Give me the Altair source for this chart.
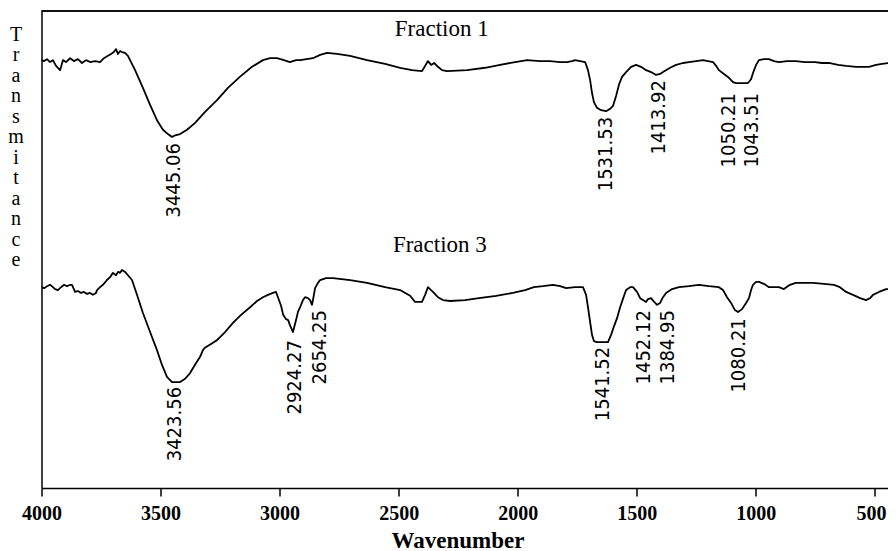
import altair as alt
import pandas as pd

# Fraction 1 spectrum: wavenumber (cm-1) and transmittance (arbitrary %)
f1_wn = [4000, 3989, 3977, 3964, 3952, 3939, 3922, 3910, 3897, 3880, 3864, 3847, 3830, 3813, 3796,
         3775, 3754, 3738, 3721, 3708, 3696, 3687, 3679, 3670, 3662, 3649, 3637, 3607, 3574, 3544,
         3515, 3490, 3469, 3452, 3435, 3418, 3389, 3356, 3314, 3263, 3217, 3167, 3116, 3070, 3040,
         3011, 2982, 2957, 2931, 2914, 2860, 2830, 2801, 2759, 2704, 2633, 2557, 2494, 2444, 2402,
         2389, 2377, 2364, 2351, 2335, 2318, 2297, 2213, 2137, 2074, 2011, 1961, 1906, 1864, 1822,
         1793, 1772, 1759, 1738, 1717, 1705, 1696, 1688, 1680, 1667, 1650, 1629, 1612, 1600, 1587,
         1574, 1562, 1545, 1524, 1503, 1482, 1461, 1440, 1419, 1402, 1390, 1360, 1335, 1306, 1281,
         1251, 1222, 1201, 1180, 1167, 1155, 1134, 1113, 1096, 1083, 1058, 1033, 1020, 1012, 999,
         987, 966, 945, 924, 903, 869, 832, 794, 752, 722, 693, 655, 621, 579, 554,
         525, 495, 470, 440, 411]
f1_t = [89.7, 89.5, 89.9, 89.3, 89.7, 88.5, 87.6, 89.7, 89.3, 90.1, 89.5, 89.9, 89.1, 89.7, 89.3,
        89.5, 89.3, 90.1, 90.6, 91.0, 91.4, 92.0, 91.0, 91.6, 91.4, 91.2, 90.6, 87.6, 83.9, 80.3,
        77.1, 75.1, 74.2, 73.6, 74.0, 74.2, 75.1, 76.5, 78.8, 81.3, 83.9, 86.2, 88.3, 89.7, 90.1,
        90.1, 89.7, 89.3, 89.7, 89.7, 90.1, 90.8, 91.2, 91.0, 90.6, 89.7, 88.9, 88.1, 87.6, 87.4,
        88.5, 89.5, 88.7, 89.1, 88.3, 87.6, 87.4, 87.6, 88.1, 88.7, 89.3, 89.7, 89.5, 89.5, 89.3,
        89.3, 89.5, 89.7, 89.5, 89.3, 87.6, 85.5, 82.8, 80.9, 79.7, 79.2, 79.0, 79.5, 80.1, 82.2,
        84.7, 86.2, 87.2, 88.3, 88.7, 88.3, 87.6, 87.2, 86.6, 86.8, 87.2, 88.1, 88.7, 89.1, 89.3,
        89.5, 89.7, 89.5, 89.3, 88.5, 87.6, 86.8, 86.0, 85.1, 84.9, 84.9, 84.9, 85.7, 87.0, 88.7,
        89.7, 89.9, 89.9, 89.5, 89.3, 89.5, 89.5, 89.3, 89.3, 89.1, 89.1, 88.7, 88.5, 88.3, 88.3,
        88.3, 88.7, 88.9, 89.1, 88.9]

# Fraction 3 spectrum
f3_wn = [4000, 3989, 3977, 3964, 3952, 3943, 3931, 3918, 3905, 3893, 3880, 3872, 3859, 3847, 3834,
         3822, 3809, 3796, 3784, 3771, 3767, 3754, 3742, 3725, 3712, 3700, 3687, 3679, 3670, 3662,
         3649, 3637, 3620, 3599, 3574, 3544, 3515, 3494, 3473, 3452, 3435, 3418, 3397, 3376, 3356,
         3334, 3322, 3314, 3288, 3263, 3229, 3196, 3162, 3124, 3095, 3070, 3049, 3028, 3015, 3007,
         2994, 2985, 2973, 2964, 2957, 2944, 2931, 2923, 2914, 2902, 2893, 2881, 2872, 2864, 2860,
         2851, 2839, 2830, 2805, 2776, 2704, 2633, 2557, 2494, 2452, 2431, 2402, 2389, 2377, 2364,
         2356, 2335, 2314, 2284, 2221, 2163, 2091, 2020, 1969, 1932, 1894, 1852, 1822, 1797, 1759,
         1726, 1713, 1705, 1696, 1688, 1680, 1667, 1642, 1621, 1608, 1595, 1583, 1570, 1557, 1545,
         1528, 1516, 1499, 1486, 1474, 1461, 1453, 1440, 1427, 1415, 1402, 1390, 1377, 1352, 1323,
         1281, 1239, 1197, 1155, 1138, 1121, 1104, 1088, 1075, 1058, 1041, 1029, 1020, 1012, 999,
         987, 966, 945, 924, 903, 882, 857, 832, 794, 760, 714, 672, 647, 621, 592,
         562, 537, 520, 508, 483, 453, 432, 411]
f3_t = [42.1, 41.9, 42.3, 42.6, 42.1, 41.7, 41.5, 42.1, 42.6, 42.3, 42.6, 42.6, 41.1, 41.3, 40.9,
        41.1, 40.7, 40.9, 40.5, 40.9, 41.5, 42.1, 42.6, 43.6, 44.2, 45.1, 44.6, 45.3, 45.1, 45.7,
        45.3, 44.6, 43.6, 40.5, 36.7, 32.7, 28.9, 25.8, 23.3, 22.2, 22.2, 22.2, 22.9, 24.1, 25.8,
        27.5, 28.9, 29.4, 30.2, 31.0, 32.7, 34.6, 36.3, 37.9, 39.2, 40.0, 40.5, 40.9, 41.1, 40.0,
        38.2, 36.3, 35.4, 35.2, 34.2, 32.7, 35.2, 36.9, 37.9, 39.4, 40.0, 39.8, 39.4, 38.4, 39.4,
        41.9, 43.0, 43.6, 44.0, 44.0, 43.6, 43.0, 42.1, 41.5, 40.3, 39.0, 39.0, 40.5, 42.1, 41.5,
        41.1, 40.0, 39.4, 39.2, 39.4, 39.8, 40.3, 40.9, 41.5, 42.1, 42.3, 42.6, 42.3, 41.9, 42.1,
        42.1, 40.5, 37.9, 34.8, 32.1, 30.8, 30.6, 30.6, 30.6, 32.1, 34.0, 35.6, 37.9, 39.8, 41.5,
        42.1, 42.1, 41.1, 39.8, 39.4, 39.0, 39.6, 39.8, 39.0, 38.4, 38.8, 40.0, 40.9, 41.7, 42.1,
        42.3, 42.6, 42.3, 42.1, 41.5, 40.0, 38.8, 37.3, 36.9, 37.5, 38.8, 39.8, 41.5, 42.6, 43.2,
        43.2, 42.8, 42.1, 42.1, 42.1, 41.7, 42.6, 43.0, 43.0, 43.0, 42.8, 42.6, 42.1, 41.1, 40.5,
        39.8, 39.4, 39.8, 40.5, 41.1, 41.7, 41.7, 41.7]

# Peak annotations: label text, wavenumber position, transmittance (top end of label)
peak_text = ["3445.06", "1531.53", "1413.92", "1050.21", "1043.51",
             "3423.56", "2924.27", "2654.25", "1541.52", "1452.12", "1384.95", "1080.21"]
peak_wn = [3444, 1629, 1406, 1113, 1016,
           3439, 2935, 2830, 1642, 1470, 1369, 1071]
peak_t = [72.3, 77.8, 85.5, 82.8, 82.8,
          21.2, 31.0, 37.3, 29.6, 37.3, 37.3, 35.6]

# Series titles
frac_text = ["Fraction 1", "Fraction 3"]
frac_wn = [2319, 2327]
frac_t = [96.2, 50.9]

tick_values = [4000, 3500, 3000, 2500, 2000, 1500, 1000, 500]

spec = pd.concat([
    pd.DataFrame({"wn": f1_wn, "t": f1_t, "series": "Fraction 1"}),
    pd.DataFrame({"wn": f3_wn, "t": f3_t, "series": "Fraction 3"}),
], ignore_index=True)
peaks = pd.DataFrame({"label": peak_text, "wn": peak_wn, "t": peak_t})
fracs = pd.DataFrame({"label": frac_text, "wn": frac_wn, "t": frac_t})

W, H = 846.5, 477
SERIF = "Liberation Serif, Times New Roman, serif"
NARROW = "Liberation Sans Narrow, Arial Narrow, DejaVu Sans Condensed, sans-serif"

xscale = alt.Scale(domain=[445, 4000], reverse=True, nice=False, zero=False)
yscale = alt.Scale(domain=[0, 100], nice=False, zero=False)

xaxis = alt.Axis(values=tick_values, format="d", title="Wavenumber", grid=False,
                 domainColor="black", domainWidth=1.5, tickColor="black", tickWidth=1.5,
                 tickSize=8, labelFont=SERIF, labelFontSize=20, labelFontWeight="bold",
                 labelColor="black", labelPadding=7, labelFlush=False,
                 labelOffset={"condition": {"test": "datum.value == 500", "value": -4}, "value": 0},
                 titleFont=SERIF, titleFontSize=23, titleFontWeight="bold", titleColor="black",
                 titleX=416, titleY=59, titleBaseline="alphabetic", titleAnchor="middle")
yaxis = alt.Axis(title=list("Transmitance"), grid=False, labels=False, ticks=False,
                 domainColor="black", domainWidth=1.5,
                 titleFont=SERIF, titleFontSize=20, titleFontWeight="normal", titleColor="black",
                 titleAngle=0, titleAlign="center", titleBaseline="alphabetic",
                 titleX=-26, titleY=29, titleLineHeight=20.5)

lines = alt.Chart(spec).mark_line(color="black", strokeWidth=1.8, strokeJoin="round",
                                  clip=True).encode(
    x=alt.X("wn:Q", scale=xscale, axis=xaxis),
    y=alt.Y("t:Q", scale=yscale, axis=yaxis),
    detail="series:N",
    order="wn:Q",
)

peak_labels = alt.Chart(peaks).mark_text(angle=270, align="right", baseline="middle",
                                          font=NARROW, fontSize=20, color="black").encode(
    x=alt.X("wn:Q", scale=xscale),
    y=alt.Y("t:Q", scale=yscale),
    text="label:N",
)

frac_labels = alt.Chart(fracs).mark_text(align="center", baseline="middle",
                                          font=SERIF, fontSize=23, color="black").encode(
    x=alt.X("wn:Q", scale=xscale),
    y=alt.Y("t:Q", scale=yscale),
    text="label:N",
)

top_border = alt.Chart(fracs).mark_rule(color="black", strokeWidth=1.5).encode(
    x=alt.value(0), x2=alt.value(W), y=alt.value(0)
)

chart = alt.layer(lines, peak_labels, frac_labels, top_border).properties(
    width=W, height=H,
    autosize=alt.AutoSizeParams(type="none"),
    padding={"left": 33.5, "top": 3, "right": 0, "bottom": 64},
    background="white",
).configure_view(stroke=None)

chart.save("out.html", embed_options={"renderer": "svg", "actions": False})
